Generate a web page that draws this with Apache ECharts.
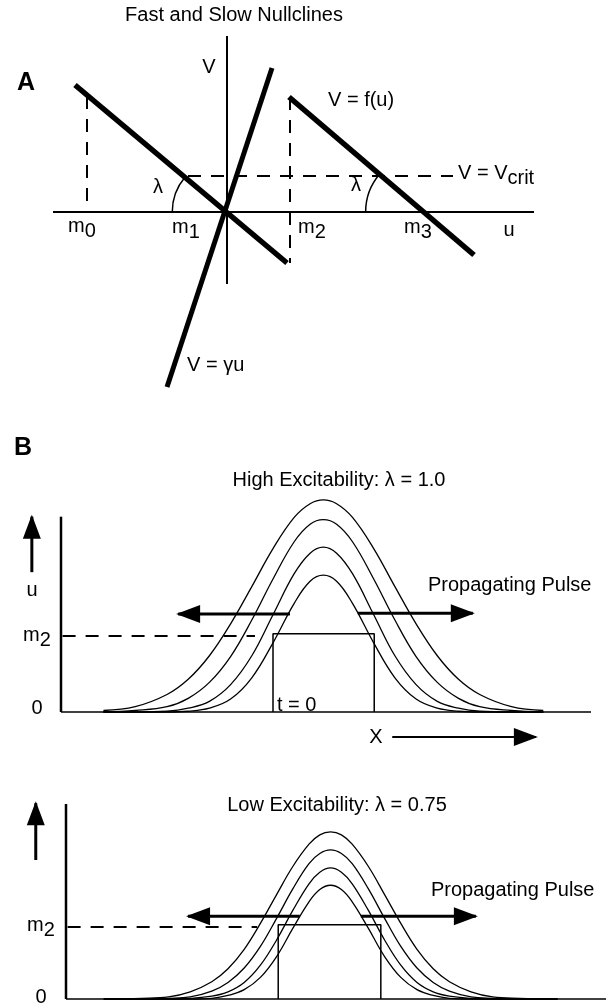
<!DOCTYPE html>
<html>
<head>
<meta charset="utf-8">
<script src="https://cdn.jsdelivr.net/npm/echarts@6/dist/echarts.min.js"></script>
<style>
  * { margin: 0; padding: 0; }
  html, body { background: #fff; }
  #main { width: 613px; height: 1007px; }
</style>
</head>
<body>
<div id="main"></div>
<script>
// ---- panel A : fast and slow nullclines (x = u, y = V) ----
var uAxisA = [[-17.4, 0], [30.7, 0]];
var vAxisA = [[0, 17.6], [0, -7.2]];
var fastLeft = [[-15.2, 12.7], [6.0, -5.1]];
var fastRight = [[6.2, 11.5], [24.7, -4.3]];
var slowLine = [[4.5, 14.4], [-6.0, -17.5]];
var dropM0 = [[-14.0, 11.6], [-14.0, 0]];
var dropM2 = [[6.3, 11.5], [6.3, -5.1]];
var vCrit = [[-3.9, 3.6], [22.6, 3.6]];
var arcRadius = [5.4, 5.8];

// ---- panel B (top) : high excitability, lambda = 1.0 ----
var xHigh = [8, 14, 20, 24, 28, 32, 36, 40, 44, 47, 49.5, 52, 55, 59, 63, 67, 71, 75, 79, 85, 91];
var high1 = [0.02, 0.07, 0.23, 0.43, 0.74, 1.16, 1.65, 2.15, 2.56, 2.74, 2.79, 2.74, 2.56, 2.15, 1.65, 1.16, 0.74, 0.43, 0.23, 0.07, 0.02];
var high2 = [0, 0.02, 0.07, 0.18, 0.39, 0.73, 1.21, 1.75, 2.24, 2.47, 2.53, 2.47, 2.24, 1.75, 1.21, 0.73, 0.39, 0.18, 0.07, 0.02, 0];
var high3 = [0, 0, 0.01, 0.05, 0.14, 0.36, 0.74, 1.28, 1.82, 2.09, 2.17, 2.09, 1.82, 1.28, 0.74, 0.36, 0.14, 0.05, 0.01, 0, 0];
var high4 = [0, 0, 0, 0.01, 0.05, 0.17, 0.45, 0.91, 1.43, 1.72, 1.80, 1.72, 1.43, 0.91, 0.45, 0.17, 0.05, 0.01, 0, 0, 0];
var stepHigh = [[40, 0], [40, 1.03], [59.1, 1.03], [59.1, 0]];
var m2High = [[0.3, 1], [36.6, 1]];
var uAxisHigh = [[0, 0], [0, 2.57]];
var xAxisHigh = [[0, 0], [100, 0]];
var leftArrowHigh = [[43.2, 1.29], [22.1, 1.29]];
var rightArrowHigh = [[56.0, 1.30], [77.7, 1.30]];
var upArrowHigh = [[-5.5, 1.84], [-5.5, 2.57]];
var xArrowHigh = [[62.5, -0.33], [89.6, -0.33]];

// ---- panel B (bottom) : low excitability, lambda = 0.75 ----
var xLow = [7, 14, 19, 23, 27, 30, 33, 36, 39, 42, 45, 47, 49, 51, 53, 56, 59, 62, 65, 68, 71, 75, 79, 84, 91];
var low1 = [0, 0.01, 0.03, 0.10, 0.24, 0.42, 0.69, 1.05, 1.45, 1.84, 2.15, 2.28, 2.32, 2.28, 2.15, 1.84, 1.45, 1.05, 0.69, 0.42, 0.24, 0.10, 0.03, 0.01, 0];
var low2 = [0, 0, 0.01, 0.03, 0.11, 0.23, 0.43, 0.73, 1.12, 1.53, 1.88, 2.02, 2.07, 2.02, 1.88, 1.53, 1.12, 0.73, 0.43, 0.23, 0.11, 0.03, 0.01, 0, 0];
var low3 = [0, 0, 0, 0.01, 0.04, 0.10, 0.23, 0.47, 0.82, 1.23, 1.60, 1.76, 1.82, 1.76, 1.60, 1.23, 0.82, 0.47, 0.23, 0.10, 0.04, 0.01, 0, 0, 0];
var low4 = [0, 0, 0, 0, 0.01, 0.05, 0.13, 0.30, 0.59, 0.98, 1.35, 1.52, 1.58, 1.52, 1.35, 0.98, 0.59, 0.30, 0.13, 0.05, 0.01, 0, 0, 0, 0];
var stepLow = [[39.3, 0], [39.3, 1.03], [58.3, 1.03], [58.3, 0]];
var m2Low = [[0.3, 1], [35.4, 1]];
var uAxisLow = [[0, 0], [0, 2.71]];
var xAxisLow = [[0, 0], [100, 0]];
var leftArrowLow = [[43.3, 1.15], [22.6, 1.15]];
var rightArrowLow = [[54.6, 1.15], [75.9, 1.15]];
var upArrowLow = [[-5.6, 1.93], [-5.6, 2.72]];

var FONT = '"Liberation Sans", Arial, Helvetica, sans-serif';

function seg(g, data, w, dashed) {
  return {
    type: 'line', xAxisIndex: g, yAxisIndex: g, data: data,
    symbol: 'none', silent: true, clip: false, animation: false,
    lineStyle: { color: '#000', width: w, type: dashed ? [13, 10] : 'solid', cap: 'butt' }
  };
}
function curve(g, xs, ys) {
  var s = seg(g, xs.map(function (x, i) { return [x, ys[i]]; }), 1.3);
  s.smooth = 0.4;
  return s;
}
function head(g, arrow, rot, off) {
  return {
    type: 'scatter', xAxisIndex: g, yAxisIndex: g, silent: true, animation: false,
    data: [arrow[arrow.length - 1]],
    symbol: 'triangle', symbolSize: [18, 24], symbolRotate: rot, symbolOffset: off,
    itemStyle: { color: '#000', opacity: 1 }
  };
}

var series = [
  seg(0, uAxisA, 2), seg(0, vAxisA, 2),
  seg(0, fastLeft, 5.5), seg(0, fastRight, 5.5), seg(0, slowLine, 5),
  seg(0, dropM0, 2, true), seg(0, dropM2, 2, true), seg(0, vCrit, 2, true),

  seg(1, uAxisHigh, 2.5), seg(1, xAxisHigh, 1.5),
  seg(1, stepHigh, 1.5), seg(1, m2High, 2, true),
  curve(1, xHigh, high1), curve(1, xHigh, high2), curve(1, xHigh, high3), curve(1, xHigh, high4),
  seg(1, leftArrowHigh, 3), head(1, leftArrowHigh, 90, [10, 0]),
  seg(1, rightArrowHigh, 3), head(1, rightArrowHigh, -90, [-10, 0]),
  seg(1, upArrowHigh, 3), head(1, upArrowHigh, 0, [0, 10]),
  seg(1, xArrowHigh, 2), head(1, xArrowHigh, -90, [-10, 0]),

  seg(2, uAxisLow, 2.5), seg(2, xAxisLow, 1.5),
  seg(2, stepLow, 1.5), seg(2, m2Low, 2, true),
  curve(2, xLow, low1), curve(2, xLow, low2), curve(2, xLow, low3), curve(2, xLow, low4),
  seg(2, leftArrowLow, 3), head(2, leftArrowLow, 90, [10, 0]),
  seg(2, rightArrowLow, 3), head(2, rightArrowLow, -90, [-10, 0]),
  seg(2, upArrowLow, 3), head(2, upArrowLow, 0, [0, 10])
];

var chart = echarts.init(document.getElementById('main'));
chart.setOption({
  animation: false,
  grid: [
    { left: 47, top: 12, width: 500, height: 380 },
    { left: 8, top: 484, width: 583, height: 266 },
    { left: 12, top: 797.4, width: 594, height: 208.8 }
  ],
  xAxis: [
    { type: 'value', gridIndex: 0, min: -18, max: 32, show: false },
    { type: 'value', gridIndex: 1, min: -10, max: 100, show: false },
    { type: 'value', gridIndex: 2, min: -10, max: 100, show: false }
  ],
  yAxis: [
    { type: 'value', gridIndex: 0, min: -18, max: 20, show: false },
    { type: 'value', gridIndex: 1, min: -0.5, max: 3, show: false },
    { type: 'value', gridIndex: 2, min: -0.1, max: 2.8, show: false }
  ],
  series: series
});

// text labels
var rich = {
  b: { fontSize: 20, fontFamily: FONT, fill: '#000', color: '#000', verticalAlign: 'top' },
  s: { fontSize: 20, fontFamily: FONT, fill: '#000', color: '#000', verticalAlign: 'top', padding: [5, 0, 0, 0] }
};
function T(x, y, text, o) {
  o = o || {};
  return {
    type: 'text', x: x, y: y, silent: true,
    style: {
      text: text, fill: '#000', rich: rich,
      font: (o.bold ? 'bold ' : '') + (o.size || 20) + 'px ' + FONT,
      align: o.align || 'left', textAlign: o.align || 'left',
      verticalAlign: 'middle', textVerticalAlign: 'middle'
    }
  };
}
function sub(a, b) { return '{b|' + a + '}{s|' + b + '}'; }

// angle arcs where the fast nullcline crosses the u axis
function crossing(line) {
  var p = line[0], q = line[1];
  var slope = (q[1] - p[1]) / (q[0] - p[0]);
  return { x: p[0] - p[1] / slope, ang: Math.atan(Math.abs(slope)) };
}
var unit = chart.convertToPixel({ gridIndex: 0 }, [1, 0])[0] - chart.convertToPixel({ gridIndex: 0 }, [0, 0])[0];
var arcs = [fastLeft, fastRight].map(function (ln, i) {
  var c = crossing(ln);
  var p = chart.convertToPixel({ gridIndex: 0 }, [c.x, 0]);
  return {
    type: 'arc', silent: true,
    shape: { cx: p[0], cy: p[1], r: arcRadius[i] * unit, startAngle: Math.PI, endAngle: Math.PI + c.ang, clockwise: true },
    style: { stroke: '#000', lineWidth: 1.5, fill: null }
  };
});

chart.setOption({
  graphic: arcs.concat([
    T(234, 15, 'Fast and Slow Nullclines', { align: 'center' }),
    T(26, 83, 'A', { bold: true, size: 25, align: 'center' }),
    T(209, 67, 'V', { align: 'center' }),
    T(328, 100, 'V = f(u)'),
    T(187, 365, 'V = γu'),
    T(458, 176, sub('V = V', 'crit')),
    T(158, 187, 'λ', { align: 'center' }),
    T(356, 185, 'λ', { align: 'center' }),
    T(68, 229, sub('m', '0')),
    T(172, 230, sub('m', '1')),
    T(298, 230, sub('m', '2')),
    T(404, 230, sub('m', '3')),
    T(509, 230, 'u', { align: 'center' }),

    T(23, 448, 'B', { bold: true, size: 25, align: 'center' }),
    T(339, 480, 'High Excitability: λ = 1.0', { align: 'center' }),
    T(32, 590, 'u', { align: 'center' }),
    T(23, 638, sub('m', '2')),
    T(37, 708, '0', { align: 'center' }),
    T(277, 705, 't = 0'),
    T(428, 585, 'Propagating Pulse'),
    T(376, 737, 'X', { align: 'center' }),

    T(337, 805, 'Low Excitability: λ = 0.75', { align: 'center' }),
    T(431, 890, 'Propagating Pulse'),
    T(27, 928, sub('m', '2')),
    T(41, 997, '0', { align: 'center' })
  ])
});
</script>
</body>
</html>
